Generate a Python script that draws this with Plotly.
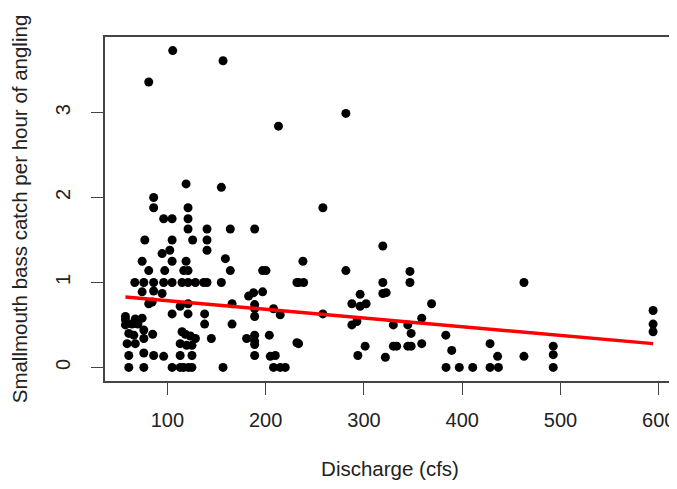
import plotly.graph_objects as go

discharge = [105.4,156.6,81,213,281.6,119,154.9,86,86,121,258.2,
 96.2,104.8,121,
 121,140.3,164,188.8,
 77,104.8,125.7,140.3,
 319.2,140.3,102.4,94.6,
 159,74.3,104.8,119,237.9,
 81,97.3,116.6,121,164,196.9,200.3,281.6,346.8,
 66.8,76,86,96.2,104.8,114.9,121,128.5,136.9,140.3,154.9,231.8,233.5,238.6,319.2,346.8,462.8,
 74.3,86,94.6,182.6,187.7,196.9,319.2,322.6,296.1,
 81,84.5,113,121,165.8,188.8,287.7,296.1,302.2,368.8,
 188.8,208,594.2,
 104.8,121,137.9,214.8,258.2,188.8,
 57.3,57.3,67.3,74.3,358.8,57.3,64,70,137.9,165.8,287.7,292.8,329.9,344.6,594.2,
 60.7,65.8,76,85,114.9,118.3,123.4,128.5,144.7,180.6,188.8,188.8,188.8,203.7,231.8,348,383.3,594.2,
 59,67.3,76,113,119.6,125,233.5,301.2,329.9,333.3,344.6,348,358.8,428.3,492.6,
 60.7,76,86,96.2,113,125,188.8,204.7,209.8,293.8,321.8,389.3,436,462.8,492.6,
 60.7,76,104.8,113,116.4,121.4,124.9,156.6,208,214.8,219.9,383.5,397,410.7,428.3,436.8,492.6]

catch = [3.73,3.61,3.36,2.84,2.99,2.16,2.12,2.0,1.88,1.88,1.88,
 1.75,1.75,1.75,
 1.63,1.63,1.63,1.63,
 1.5,1.5,1.5,1.5,
 1.43,1.38,1.38,1.34,
 1.28,1.25,1.25,1.25,1.25,
 1.14,1.14,1.14,1.14,1.14,1.14,1.14,1.14,1.13,
 1.0,1.0,1.0,1.0,1.0,1.0,1.0,1.0,1.0,1.0,1.0,1.0,1.0,1.0,1.0,1.0,1.0,
 0.89,0.9,0.87,0.84,0.88,0.89,0.87,0.88,0.86,
 0.75,0.77,0.72,0.75,0.75,0.74,0.75,0.72,0.75,0.75,
 0.69,0.69,0.67,
 0.63,0.63,0.63,0.62,0.63,0.60,
 0.6,0.56,0.57,0.58,0.58,0.5,0.51,0.51,0.51,0.51,0.50,0.54,0.5,0.5,0.51,
 0.4,0.38,0.44,0.39,0.42,0.39,0.37,0.34,0.34,0.34,0.38,0.31,0.27,0.38,0.29,0.40,0.38,0.42,
 0.28,0.28,0.34,0.28,0.26,0.26,0.28,0.25,0.25,0.25,0.25,0.25,0.28,0.28,0.25,
 0.14,0.17,0.14,0.13,0.14,0.14,0.14,0.13,0.14,0.14,0.12,0.20,0.13,0.13,0.15,
 0,0,0,0,0,0,0,0,0,0,0,0,0,0,0,0,0]

fit_x = [57.3, 594.2]
fit_y = [0.83, 0.28]

x_ticks = [100, 200, 300, 400, 500, 600]
y_ticks = [0, 1, 2, 3]

FONT = "Liberation Sans, Arial, sans-serif"
INK = "#222222"

fig = go.Figure()
fig.add_trace(go.Scatter(x=discharge, y=catch, mode="markers",
                         marker=dict(color="black", size=9, line=dict(width=0)),
                         showlegend=False, hoverinfo="skip"))
fig.add_trace(go.Scatter(x=fit_x, y=fit_y, mode="lines",
                         line=dict(color="#ff0000", width=3.5),
                         showlegend=False, hoverinfo="skip"))

axis_common = dict(showline=True, mirror=True, linecolor="#444444", linewidth=1.5,
                   ticks="outside", ticklen=12, tickwidth=1.2, tickcolor="#444444",
                   showgrid=False, zeroline=False,
                   tickfont=dict(family=FONT, size=20, color=INK))

# the page body has an 8px margin: size the figure so the page does not overflow
fig.update_layout(
    width=669, height=473,
    margin=dict(l=97, r=2, t=29, b=100, autoexpand=False),
    paper_bgcolor="white", plot_bgcolor="white",
    font=dict(family=FONT, size=20, color=INK),
    xaxis=dict(range=[36.5, 616.5], tickvals=x_ticks, ticklabelstandoff=8,
               title=dict(text="Discharge (cfs)", font=dict(family=FONT, size=20.5, color=INK), standoff=32),
               **axis_common),
    yaxis=dict(range=[-0.16, 3.89], tickvals=y_ticks, tickangle=-90, ticklabelstandoff=13,
               title=dict(text="Smallmouth bass catch per hour of angling",
                          font=dict(family=FONT, size=20.5, color=INK), standoff=22),
               **axis_common),
)

fig.write_html("out.html")
